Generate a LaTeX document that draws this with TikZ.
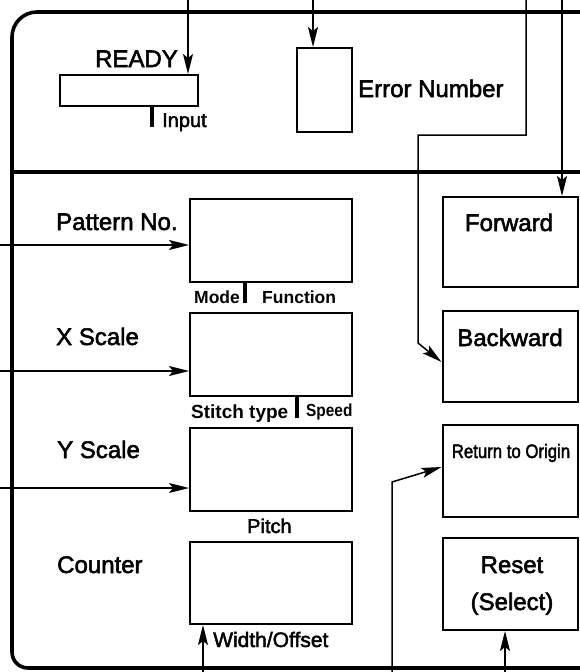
\documentclass[tikz,border=0pt]{standalone}
\usepackage{fontspec}
\setmainfont{Liberation Sans}
\newfontfamily\med{Liberation Sans}[FakeBold=2.2]
\newfontfamily\bld{Liberation Sans Bold}
\usetikzlibrary{arrows.meta}
\begin{document}
\begin{tikzpicture}[x=1pt,y=-1pt,
  box/.style={draw, line width=2pt, inner sep=0pt},
  conn/.style={line width=1.5pt, -{Stealth[length=20pt,width=10pt,inset=4pt]}},
  big/.style={font=\med\fontsize{24}{28}\selectfont, inner sep=0pt},
  small/.style={font=\med\fontsize{20}{24}\selectfont, inner sep=0pt},
  mb/.style={font=\bld\fontsize{17.5}{20}\selectfont, inner sep=0pt},
  sb/.style={font=\bld\fontsize{19}{22}\selectfont, inner sep=0pt},
  tickmark/.style={line width=3.8pt},
  frame/.style={line width=3.6pt}]
\useasboundingbox (0,0) rectangle (580,672);
\clip (0,0) rectangle (580,672);
% panel frame
\draw[frame, rounded corners=25pt] (595,12) -- (12,12) -- (12,420);
\draw[frame, rounded corners=16pt] (12,400) -- (12,668) -- (595,668);
\draw[frame] (12,172) -- (595,172);
% boxes
\node[box, minimum width=138pt, minimum height=31pt] (ready) at (129,90.5) {};
\node[box, minimum width=55pt, minimum height=84pt] (err) at (324.5,90) {};
\node[box, minimum width=162pt, minimum height=83pt] (pat) at (271,240.5) {};
\node[box, minimum width=162pt, minimum height=83pt] (xs) at (271,354.5) {};
\node[box, minimum width=162pt, minimum height=83pt] (ys) at (271,469.5) {};
\node[box, minimum width=162pt, minimum height=82pt] (cnt) at (271,583) {};
\node[box, minimum width=135pt, minimum height=90pt] (fwd) at (510,242) {};
\node[box, minimum width=135pt, minimum height=91pt] (back) at (510,356.5) {};
\node[box, minimum width=135pt, minimum height=92pt] (ret) at (510,471) {};
\node[box, minimum width=135pt, minimum height=92pt] (rst) at (510,584) {};
% labels
\node[big, anchor=base] (readyl) at (136.5,67) {READY};
\node[small, anchor=base west] (inl) at (162,127) {Input};
\node[big, anchor=base west] (errl) at (358,97) {Error Number};
\node[big, anchor=base west] (patl) at (56,230) {Pattern No.};
\node[mb, anchor=base west] (model) at (194,303) {Mode};
\node[mb, anchor=base west] (funl) at (262,303) {Function};
\node[big, anchor=base west] (xl) at (56,345) {X Scale};
\node[sb, anchor=base west] (stl) at (191,418) {Stitch type};
\node[mb, anchor=base west] (spl) at (306,416) {\scalebox{0.88}[1]{Speed}};
\node[big, anchor=base west] (yl) at (57,458) {Y Scale};
\node[small, anchor=base west] (pil) at (247,533) {Pitch};
\node[big, anchor=base west] (cl) at (57,573) {Counter};
\node[small, anchor=base west, font=\med\fontsize{21}{24}\selectfont] (wol) at (213,647) {Width/Offset};
\node[big, anchor=base] (fwl) at (509,231) {Forward};
\node[big, anchor=base] (bkl) at (510,346) {Backward};
\node[small, anchor=base, font=\med\fontsize{19.5}{22}\selectfont] (rtl) at (511,458) {\scalebox{0.86}[1]{Return to Origin}};
\node[big, anchor=base] (rsl) at (512,573) {Reset};
\node[big, anchor=base] (sell) at (512,610) {(Select)};
% tick marks
\draw[tickmark] (152,106) -- (152,127);
\draw[tickmark] (245,282) -- (245,303);
\draw[tickmark] (297,396) -- (297,418);
% connectors from top
\coordinate (rdin) at (188,-3);
\draw[conn] (rdin) -- (rdin |- ready.north);
\coordinate (errin) at (313,-3);
\draw[conn] (errin) -- (errin |- err.north);
\coordinate (fwin) at (562,-3);
\draw[conn] (fwin) -- (fwin |- fwd.north);
\coordinate (bk1) at (526,-3);
\coordinate (bk2) at (526,135);
\coordinate (bk3) at (418,135);
\coordinate (bk4) at (418,343);
\draw[conn] (bk1) -- (bk2) -- (bk3) -- (bk4) -- ([yshift=-5.5pt]back.west);
% connectors from left
\coordinate (pin) at (-3,245);
\draw[conn] (pin) -- (pin -| pat.west);
\coordinate (xin) at (-3,371);
\draw[conn] (xin) -- (xin -| xs.west);
\coordinate (yin) at (-3,488);
\draw[conn] (yin) -- (yin -| ys.west);
% connectors from bottom
\coordinate (woin) at (203,675);
\draw[conn] (woin) -- (woin |- cnt.south);
\coordinate (ro1) at (392,675);
\coordinate (ro2) at (392,482);
\draw[conn] (ro1) -- (ro2) -- ([yshift=4pt]ret.west);
\coordinate (rsin) at (505,675);
\draw[conn] (rsin) -- (rsin |- rst.south);
\end{tikzpicture}
\end{document}
